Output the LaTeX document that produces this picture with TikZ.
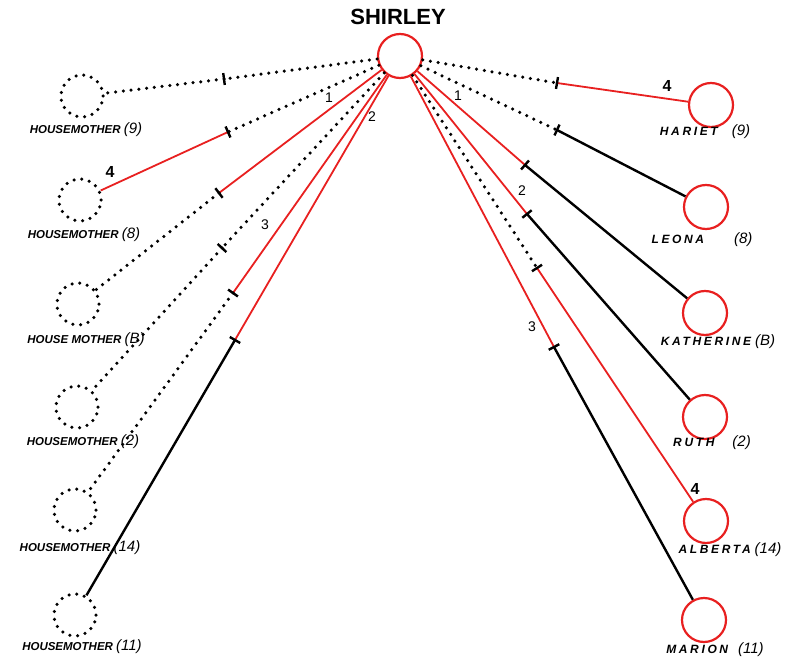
\documentclass[tikz,border=0pt]{standalone}
\usepackage{fontspec}
\setmainfont{Liberation Sans}
\newfontfamily\handwide[LetterSpace=22]{Liberation Sans}
\usetikzlibrary{calc}
\definecolor{rl}{RGB}{232,32,32}
\newcommand\pn[1]{{\fontsize{15}{15}\selectfont\mdseries(#1)}}
\newcommand\mytick[2]{\draw[tk] ($(#1)!6pt!90:(#2)$) -- ($(#1)!6pt!-90:(#2)$);}
\begin{document}
\begin{tikzpicture}[x=1pt,y=-1pt,
  dots/.style={draw=black,line width=3.5pt,line cap=round,dash pattern=on 0pt off 7.8pt},
  redl/.style={draw=rl,line width=1.8pt},
  blk/.style={draw=black,line width=2.4pt},
  tk/.style={draw=black,line width=2.4pt},
  hm/.style={circle,minimum size=42pt,inner sep=0pt,dots},
  person/.style={circle,minimum size=44pt,inner sep=0pt,draw=rl,line width=2.2pt},
  lbl/.style={font=\fontsize{11.5}{11.5}\selectfont\bfseries\itshape,inner sep=0pt},
  rlbl/.style={font=\fontsize{12}{12}\selectfont\bfseries\itshape,inner sep=0pt},
  num/.style={font=\fontsize{14}{14}\selectfont,inner sep=0pt},
  bnum/.style={font=\fontsize{16}{16}\selectfont\bfseries,inner sep=0pt}]
\useasboundingbox (0,0) rectangle (790,658);
% central node
\node[font=\fontsize{22}{22}\selectfont\bfseries,inner sep=0pt] (title) at (398,17) {SHIRLEY};
\node[person] (sh) at (400,56) {};
% housemothers
\node[hm] (h9)  at (82,96) {};
\node[hm] (h8)  at (80,200) {};
\node[hm] (hB)  at (78,304) {};
\node[hm] (h2)  at (77,407) {};
\node[hm] (h14) at (75,510) {};
\node[hm] (h11) at (75,615) {};
% girls
\node[person] (har) at (711,105) {};
\node[person] (leo) at (706,207) {};
\node[person] (kat) at (705,313) {};
\node[person] (rut) at (705,417) {};
\node[person] (alb) at (706,521) {};
\node[person] (mar) at (704,620) {};
% labels
\node[lbl] (lh9)  at (86,130) {HOUSEMOTHER \pn{9}};
\node[lbl] (lh8)  at (84,235) {HOUSEMOTHER \pn{8}};
\node[lbl] (lhB)  at (86,340) {HOUSE MOTHER \pn{B}};
\node[lbl] (lh2)  at (83,442) {HOUSEMOTHER \pn{2}};
\node[lbl] (lh14) at (80,548) {HOUSEMOTHER \pn{14}};
\node[lbl] (lh11) at (82,647) {HOUSEMOTHER \pn{11}};
\node[rlbl] (lhar) at (705,132) {{\handwide HARIET}\hspace{14pt}\pn{9}};
\node[rlbl] (lleo) at (702,240) {{\handwide LEONA}\hspace{30pt}\pn{8}};
\node[rlbl] (lkat) at (718,342) {{\handwide KATHERINE}\hspace{4pt}\pn{B}};
\node[rlbl] (lrut) at (712,443) {{\handwide RUTH}\hspace{18pt}\pn{2}};
\node[rlbl] (lalb) at (730,550) {{\handwide ALBERTA}\hspace{4pt}\pn{14}};
\node[rlbl] (lmar) at (715,650) {{\handwide MARION}\hspace{10pt}\pn{11}};
% tick coordinates
\coordinate (t9)  at (224,79);
\coordinate (t8)  at (228,132);
\coordinate (tB)  at (219,193);
\coordinate (t2)  at (222,248);
\coordinate (t14) at (233,293);
\coordinate (t11) at (235,340);
\coordinate (thar) at (557,83);
\coordinate (tleo) at (557,130);
\coordinate (tkat) at (525,165);
\coordinate (trut) at (527,214);
\coordinate (talb) at (537,268);
\coordinate (tmar) at (554,347);
% left connectors
\draw[dots] (sh) -- (t9);  \draw[dots] (t9) -- (h9);
\draw[dots] (sh) -- (t8);  \draw[redl] (t8) -- (h8);
\draw[redl] (sh) -- (tB);  \draw[dots] (tB) -- (hB);
\draw[dots] (sh) -- (t2);  \draw[dots] (t2) -- (h2);
\draw[redl] (sh) -- (t14); \draw[dots] (t14) -- (h14);
\draw[redl] (sh) -- (t11); \draw[blk] (t11) -- (h11);
% right connectors
\draw[dots] (sh) -- (thar); \draw[redl] (thar) -- (har);
\draw[dots] (sh) -- (tleo); \draw[blk] (tleo) -- (leo);
\draw[redl] (sh) -- (tkat); \draw[blk] (tkat) -- (kat);
\draw[redl] (sh) -- (trut); \draw[blk] (trut) -- (rut);
\draw[dots] (sh) -- (talb); \draw[redl] (talb) -- (alb);
\draw[redl] (sh) -- (tmar); \draw[blk] (tmar) -- (mar);
% ticks
\mytick{t9}{sh}\mytick{t8}{sh}\mytick{tB}{sh}\mytick{t2}{sh}\mytick{t14}{sh}\mytick{t11}{sh}
\mytick{thar}{sh}\mytick{tleo}{sh}\mytick{tkat}{sh}\mytick{trut}{sh}\mytick{talb}{sh}\mytick{tmar}{sh}
% numbers
\node[bnum] (n1) at (110,172) {4};
\node[num] (n2) at (329,98) {1};
\node[num] (n3) at (372,117) {2};
\node[num] (n4) at (265,225) {3};
\node[bnum] (n5) at (667,86) {4};
\node[num] (n6) at (458,96) {1};
\node[num] (n7) at (522,191) {2};
\node[bnum] (n8) at (695,489) {4};
\node[num] (n9) at (532,327) {3};
\end{tikzpicture}
\end{document}
